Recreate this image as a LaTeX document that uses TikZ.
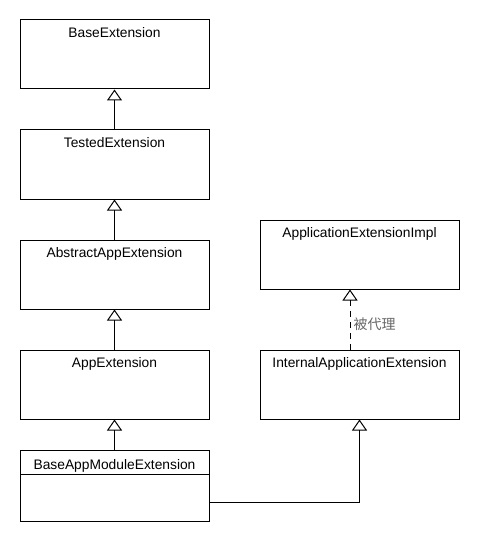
\documentclass[tikz,border=0pt]{standalone}
\usepackage{fontspec}
\setmainfont{Liberation Sans}
\newfontfamily\cjk{Noto Sans CJK SC}
\usetikzlibrary{arrows.meta,shapes.multipart}

\begin{document}
\begin{tikzpicture}[x=1pt, y=-1pt, line width=1pt,
  font=\fontsize{13.8}{16}\selectfont,
  cls/.style={draw, minimum width=189pt, minimum height=69pt, inner sep=0pt,
    label={[anchor=base, yshift=-18pt, inner sep=0pt]north:#1}},
  inherit/.style={-{Triangle[open, width=15pt, length=11pt]}},
  delegate/.style={inherit, dash pattern=on 6pt off 5pt}]

\useasboundingbox (0,0) rectangle (480,540);

% left column
\node [cls=BaseExtension] (base) at (114.5,54.5) {};
\node [cls=TestedExtension] (tested) at (114.5,164.5) {};
\node [cls=AbstractAppExtension] (abstract) at (114.5,274.5) {};
\node [cls=AppExtension] (app) at (114.5,384.5) {};
\node [draw, rectangle split, rectangle split parts=2, minimum width=189pt,
  inner xsep=0pt, inner ysep=0pt, anchor=north] (module) at (114.5,450)
  {\rule[-5pt]{0pt}{23pt}BaseAppModuleExtension\nodepart{two}\rule{0pt}{46pt}};

% right column
\node [cls=ApplicationExtensionImpl, minimum width=199pt] (impl) at (359.5,254.5) {};
\node [cls=InternalApplicationExtension, minimum width=199pt] (internal) at (359.5,384.5) {};

\draw [inherit] (tested) -- (base);
\draw [inherit] (abstract) -- (tested);
\draw [inherit] (app) -- (abstract);
\draw [inherit] (module) -- (app);
\draw [inherit] ([yshift=20pt]module.south east) -| (internal.south);
\draw [delegate] ([xshift=-9.5pt]internal.north) -- node [right, pos=.43, inner sep=3pt, text=black!60, font=\cjk\fontsize{14}{16}\selectfont] {被代理} ([xshift=-9.5pt]impl.south);
\end{tikzpicture}
\end{document}
